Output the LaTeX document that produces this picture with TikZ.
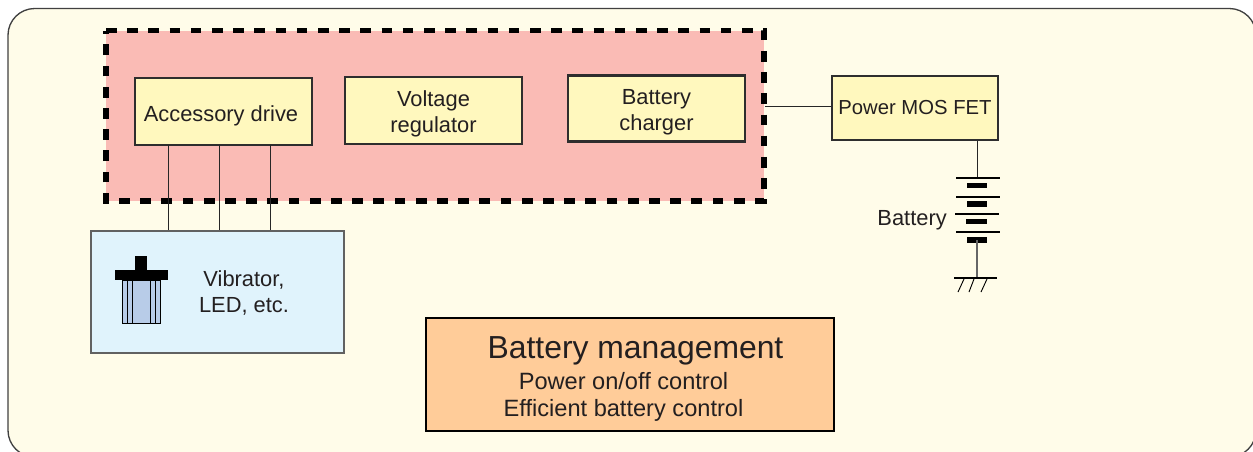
\documentclass[tikz,border=0pt]{standalone}
\usepackage{fontspec}
\setmainfont{Liberation Sans}
\definecolor{txt}{HTML}{231F20}
\definecolor{cream}{HTML}{FFFCE9}
\definecolor{pinkfill}{HTML}{FABBB5}
\definecolor{yel}{HTML}{FFF8BE}
\definecolor{skyb}{HTML}{E0F3FC}
\definecolor{orng}{HTML}{FFCC99}
\definecolor{body}{HTML}{B8CCE8}
\newcommand{\dn}{\rule{0pt}{17pt}}
\tikzset{
  yelbox/.style={draw=black!82,line width=1.9pt,fill=yel,text=txt,align=center,inner sep=0pt,font=\fontsize{16.4}{19}\selectfont},
  wire/.style={draw=black!85,line width=0.65pt},
  plate/.style={draw=black,line width=1.5pt},
  cell/.style={draw=black,line width=3.8pt},
  lbl/.style={text=txt,align=center,inner sep=0pt,font=\fontsize{16.4}{19.5}\selectfont},
  sublbl/.style={text=txt,inner sep=0pt,font=\fontsize{17.7}{20}\selectfont}
}
\begin{document}
\begin{tikzpicture}[x=0.75pt,y=-0.75pt]
\useasboundingbox (0,0) rectangle (1253,451);
\clip (0,0) rectangle (1253,451);
\draw[draw=black!75,line width=1pt,fill=cream,rounded corners=20pt] (8,8.5) rectangle (1256,457);
% red region
\fill[pinkfill] (106,30.5) rectangle (764,201);
\draw[black,line width=3.8pt,dash pattern=on 8pt off 7.9pt] (106,30.5) -- (764,30.5) -- (764,201) -- (106,201) -- cycle;
% boxes
\node[yelbox,minimum width=132.8pt,minimum height=50pt] (acc) at (223.5,111.5) {\rule{0pt}{18pt}Accessory drive\hspace*{3.8pt}};
\node[yelbox,minimum width=132.8pt,minimum height=50pt] (volt) at (433.5,110.5) {\dn Voltage\\regulator};
\node[yelbox,minimum width=132.8pt,minimum height=49.5pt] (chg) at (656.5,108.5) {\dn Battery\\charger};
\node[yelbox,font=\fontsize{15.2}{19}\selectfont,minimum width=124.5pt,minimum height=48pt] (fet) at (915,108) {Power MOS FET};
\node[draw=black!62,line width=1pt,fill=skyb,minimum width=189.8pt,minimum height=91.5pt,inner sep=0pt] (vib) at (217.5,292) {};
\node[lbl] (vibt) at (244,293) {Vibrator,\\LED, etc.};
\node[draw=black,line width=1.7pt,fill=orng,minimum width=306pt,minimum height=84.8pt,inner sep=0pt] (mgmt) at (630,374.5) {};
\node[text=txt,inner sep=0pt,font=\fontsize{23.9}{26}\selectfont] (mt) at (635.5,351) {Battery management};
\node[sublbl] (m1) at (623.5,381) {Power on/off control};
\node[sublbl] (m2) at (623.5,410) {Efficient battery control};
% connectors
\coordinate (a1) at (168,145); \coordinate (a2) at (219,145); \coordinate (a3) at (270,145);
\draw[wire] (a1) -- (a1 |- vib.north);
\draw[wire] (a2) -- (a2 |- vib.north);
\draw[wire] (a3) -- (a3 |- vib.north);
\coordinate (redr) at (765,106);
\draw[wire] (redr) -- (redr -| fet.west);
% vibrator symbol
\fill[black] (135.3,255.7) rectangle (147,270);
\fill[black] (115,270) rectangle (167.7,280);
\draw[black,line width=0.7pt,fill=body] (122.5,280) rectangle (160,323);
\foreach \x in {127.5,132.3,150.7,155.7} \draw[black,line width=0.7pt] (\x,280) -- (\x,323);
% battery
\coordinate (bt) at (977,178);
\coordinate (bb) at (977,240);
\coordinate (gnd) at (977,277.5);
\draw[wire] (bt |- fet.south) -- (bt);
\draw[plate] (956,178) -- (1000,178);
\draw[cell] (967,185.7) -- (987,185.7);
\draw[plate] (956,196.5) -- (1000,196.5);
\draw[cell] (967,204) -- (987,204);
\draw[plate] (955,213.5) -- (999,213.5);
\draw[cell] (966,221.5) -- (987,221.5);
\draw[plate] (956,232) -- (1000,232);
\draw[cell] (967,240) -- (987,240);
\draw[draw=black!60,line width=0.9pt] (bb) -- (gnd);
\draw[plate] (954,277.5) -- (997,277.5);
\draw[black,line width=0.7pt] (964,279) -- (958,292);
\draw[black,line width=0.7pt] (974,279) -- (969,292);
\draw[black,line width=0.7pt] (987,279) -- (981,292);
\node[lbl,anchor=east] (batt) at (947,220) {Battery};
\end{tikzpicture}
\end{document}
